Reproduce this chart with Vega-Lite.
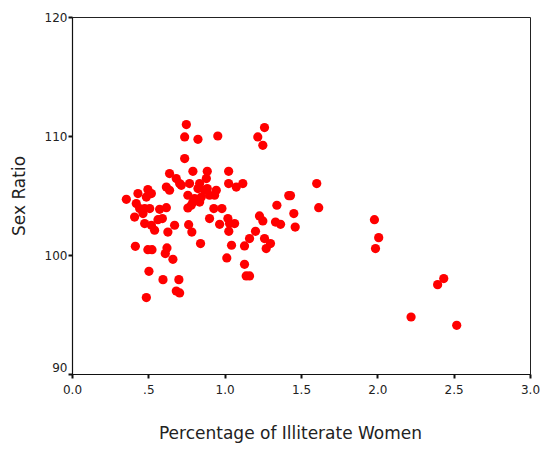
{
  "$schema": "https://vega.github.io/schema/vega-lite/v6.json",
  "autosize": "none",
  "width": 458,
  "height": 357,
  "padding": {"left": 72, "top": 17, "right": 11, "bottom": 75},
  "background": "white",
  "config": {
    "view": {"stroke": "#222", "strokeWidth": 1},
    "axis": {
      "grid": false,
      "domainColor": "#111",
      "domainWidth": 1.2,
      "tickColor": "#111",
      "tickSize": 4,
      "tickWidth": 2,
      "labelFont": "DejaVu Sans",
      "labelFontSize": 12,
      "labelColor": "#222",
      "titleFont": "DejaVu Sans",
      "titleFontSize": 17,
      "titleFontWeight": "normal",
      "titleColor": "#222"
    }
  },
  "data": {
    "values": [
      {"x": 0.749, "y": 110.96}, {"x": 0.738, "y": 109.92}, {"x": 0.825, "y": 109.72}, {"x": 0.955, "y": 110.0},
      {"x": 1.261, "y": 110.71}, {"x": 1.217, "y": 109.92}, {"x": 1.25, "y": 109.22}, {"x": 0.738, "y": 108.1},
      {"x": 0.639, "y": 106.84}, {"x": 0.683, "y": 106.42}, {"x": 0.705, "y": 106.0}, {"x": 0.792, "y": 107.03},
      {"x": 0.886, "y": 107.03}, {"x": 1.026, "y": 107.03}, {"x": 0.77, "y": 106.0}, {"x": 0.716, "y": 105.86},
      {"x": 0.836, "y": 106.0}, {"x": 0.88, "y": 106.42}, {"x": 0.886, "y": 105.58}, {"x": 0.825, "y": 105.58},
      {"x": 0.945, "y": 105.44}, {"x": 1.026, "y": 106.0}, {"x": 1.076, "y": 105.71}, {"x": 1.119, "y": 106.0},
      {"x": 0.759, "y": 105.02}, {"x": 0.803, "y": 104.74}, {"x": 0.847, "y": 104.87}, {"x": 0.934, "y": 105.02},
      {"x": 0.792, "y": 104.45}, {"x": 0.836, "y": 104.45}, {"x": 0.759, "y": 103.95}, {"x": 0.781, "y": 104.18},
      {"x": 0.929, "y": 103.9}, {"x": 0.982, "y": 103.9}, {"x": 0.901, "y": 103.06}, {"x": 1.021, "y": 103.06},
      {"x": 0.618, "y": 105.71}, {"x": 0.639, "y": 105.44}, {"x": 0.497, "y": 105.5}, {"x": 0.432, "y": 105.16},
      {"x": 0.52, "y": 105.16}, {"x": 0.487, "y": 104.87}, {"x": 0.356, "y": 104.68}, {"x": 0.421, "y": 104.32},
      {"x": 0.443, "y": 103.9}, {"x": 0.476, "y": 103.9}, {"x": 0.509, "y": 103.9}, {"x": 0.574, "y": 103.84},
      {"x": 0.618, "y": 103.98}, {"x": 0.41, "y": 103.19}, {"x": 0.465, "y": 103.48}, {"x": 0.476, "y": 102.64},
      {"x": 0.52, "y": 102.5}, {"x": 0.541, "y": 102.08}, {"x": 0.563, "y": 102.97}, {"x": 0.592, "y": 103.06},
      {"x": 0.628, "y": 101.93}, {"x": 0.672, "y": 102.5}, {"x": 0.764, "y": 102.55}, {"x": 0.785, "y": 101.93},
      {"x": 0.842, "y": 100.96}, {"x": 0.415, "y": 100.73}, {"x": 0.497, "y": 100.45}, {"x": 0.524, "y": 100.45},
      {"x": 0.622, "y": 100.59}, {"x": 0.611, "y": 100.12}, {"x": 0.661, "y": 99.64}, {"x": 0.504, "y": 98.63},
      {"x": 0.596, "y": 97.93}, {"x": 0.7, "y": 97.93}, {"x": 0.683, "y": 96.97}, {"x": 0.705, "y": 96.81},
      {"x": 0.487, "y": 96.42}, {"x": 0.967, "y": 102.58}, {"x": 1.032, "y": 102.64}, {"x": 1.065, "y": 102.64},
      {"x": 1.027, "y": 101.99}, {"x": 1.228, "y": 103.28}, {"x": 1.25, "y": 102.86}, {"x": 1.333, "y": 102.77},
      {"x": 1.366, "y": 102.58}, {"x": 1.202, "y": 101.99}, {"x": 1.163, "y": 101.38}, {"x": 1.261, "y": 101.38},
      {"x": 1.3, "y": 100.96}, {"x": 1.272, "y": 100.54}, {"x": 1.13, "y": 100.76}, {"x": 1.045, "y": 100.82},
      {"x": 1.014, "y": 99.75}, {"x": 1.13, "y": 99.22}, {"x": 1.141, "y": 98.24}, {"x": 1.163, "y": 98.24},
      {"x": 1.603, "y": 106.0}, {"x": 1.42, "y": 104.99}, {"x": 1.431, "y": 104.99}, {"x": 1.616, "y": 103.98},
      {"x": 1.342, "y": 104.18}, {"x": 1.453, "y": 103.48}, {"x": 1.462, "y": 102.35}, {"x": 1.981, "y": 102.97},
      {"x": 2.009, "y": 101.46}, {"x": 1.988, "y": 100.54}, {"x": 2.435, "y": 98.02}, {"x": 2.395, "y": 97.51},
      {"x": 2.221, "y": 94.79}, {"x": 2.52, "y": 94.09}, {"x": 0.901, "y": 105.02}, {"x": 0.868, "y": 105.44}
    ]
  },
  "mark": {"type": "circle", "color": "#ff0000", "opacity": 1, "size": 85},
  "encoding": {
    "x": {
      "field": "x",
      "type": "quantitative",
      "scale": {"domain": [0, 3], "nice": false, "zero": false},
      "axis": {
        "title": "Percentage of Illiterate Women",
        "values": [0, 0.5, 1, 1.5, 2, 2.5, 3],
        "labelExpr": "datum.value == 0.5 ? '.5' : format(datum.value, '.1f')",
        "labelPadding": 6,
        "titlePadding": 30,
        "titleX": 218,
        "titleAlign": "center",
        "labelFlush": false
      }
    },
    "y": {
      "field": "y",
      "type": "quantitative",
      "scale": {"domain": [90, 120], "nice": false, "zero": false},
      "axis": {
        "title": "Sex Ratio",
        "values": [90, 100, 110, 120],
        "labelPadding": 1,
        "titlePadding": 16,
        "labelBaseline": {"condition": {"test": "datum.value == 90", "value": "bottom"}, "value": "middle"}
      }
    }
  }
}
